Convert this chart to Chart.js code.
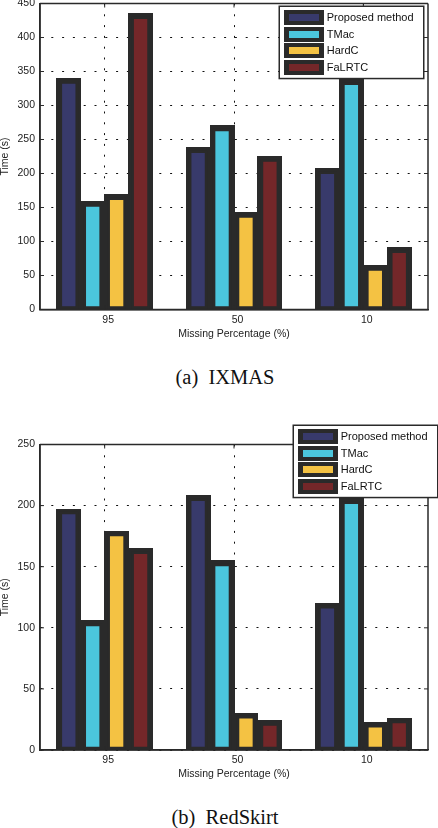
<!DOCTYPE html>
<html><head><meta charset="utf-8">
<script src="https://cdn.jsdelivr.net/npm/chart.js@4"></script>
<style>
html,body{margin:0;padding:0;background:#fff;width:438px;height:828px;overflow:hidden;position:relative}
.wrap{position:absolute;left:0;width:438px}
canvas{display:block}
.cap{position:absolute;left:0;width:450px;text-align:center;font-family:"Liberation Serif","Times New Roman",serif;font-size:20.5px;line-height:24px;color:#111;white-space:pre}
</style></head><body>
<div class="wrap" style="top:-10px;height:355px"><canvas id="c1"></canvas></div>
<div class="cap" style="top:365px">(a)  IXMAS</div>
<div class="wrap" style="top:400px;height:385px"><canvas id="c2"></canvas></div>
<div class="cap" style="top:805px">(b)  RedSkirt</div>
<script>
const categories = ['95', '50', '10'];
const seriesNames = ['Proposed method', 'TMac', 'HardC', 'FaLRTC'];
const seriesColors = ['#383a6b', '#4bc6dd', '#f4c243', '#742729'];

// (a) IXMAS, time (s)
const ixmasProposed = [336, 234, 203];
const ixmasTMac = [155, 266, 334];
const ixmasHardC = [165, 139, 61];
const ixmasFaLRTC = [431, 221, 87];

// (b) RedSkirt, time (s)
const redProposed = [195, 206, 118];
const redTMac = [103.5, 152.5, 203.5];
const redHardC = [177, 28, 20.5];
const redFaLRTC = [162.5, 22, 24];

const xTitle = 'Missing Percentage (%)';
const yTitle = 'Time (s)';

const INK = '#2a2a2a';
const TXT = '#222';
const HALF_EDGE = 2.65;
Chart.defaults.font.family = '"Liberation Sans", Arial, sans-serif';

function makeDatasets(vals) {
  return seriesNames.map((n, i) => ({
    label: n, data: vals[i],
    backgroundColor: seriesColors[i], borderColor: INK,
    borderWidth: HALF_EDGE, borderSkipped: false, inflateAmount: 0,
    categoryPercentage: 0.74, barPercentage: 0.78
  }));
}

// thick MATLAB-like edge: the outer half of the edge line, drawn under each bar
const edgeUnderlay = {
  id: 'edgeUnderlay',
  beforeDatasetsDraw(chart) {
    const {ctx, chartArea: ca} = chart;
    ctx.save();
    ctx.beginPath();
    ctx.rect(ca.left, ca.top - 10, ca.right - ca.left, ca.bottom - ca.top + 10);
    ctx.clip();
    ctx.fillStyle = INK;
    chart.data.datasets.forEach((ds, i) => {
      chart.getDatasetMeta(i).data.forEach(bar => {
        const p = bar.getProps(['x', 'y', 'base', 'width'], true);
        const l = Math.floor(p.x - p.width / 2 - HALF_EDGE);
        const r = Math.ceil(p.x + p.width / 2 + HALF_EDGE);
        const t = Math.floor(Math.min(p.y, p.base) - HALF_EDGE);
        const b = Math.ceil(Math.max(p.y, p.base) + HALF_EDGE);
        ctx.fillRect(l, t, r - l, b - t);
      });
    });
    ctx.restore();
  }
};

const framePlugin = {
  id: 'frame',
  afterDatasetsDraw(chart) {
    const {ctx, chartArea: ca, scales} = chart;
    ctx.save();
    ctx.strokeStyle = INK; ctx.lineWidth = 1.5;
    ctx.beginPath();
    ctx.moveTo(ca.left, ca.top); ctx.lineTo(ca.right, ca.top);
    ctx.moveTo(ca.right, ca.top); ctx.lineTo(ca.right, ca.bottom);
    ctx.moveTo(ca.left, ca.bottom); ctx.lineTo(ca.right, ca.bottom);
    ctx.moveTo(ca.left, ca.top); ctx.lineTo(ca.left, ca.bottom);
    ctx.stroke();
    ctx.lineWidth = 1;
    ctx.beginPath();
    scales.y.ticks.forEach(t => {
      const y = scales.y.getPixelForValue(t.value);
      ctx.moveTo(ca.left, y); ctx.lineTo(ca.left + 4, y);
      ctx.moveTo(ca.right - 4, y); ctx.lineTo(ca.right, y);
    });
    scales.x.ticks.forEach((t, i) => {
      const x = scales.x.getPixelForTick(i);
      ctx.moveTo(x, ca.bottom); ctx.lineTo(x, ca.bottom - 4);
      ctx.moveTo(x, ca.top); ctx.lineTo(x, ca.top + 4);
    });
    ctx.stroke();
    ctx.restore();
  }
};

const boxLegend = {
  id: 'boxLegend',
  afterDraw(chart, args, opts) {
    const {ctx, chartArea: ca} = chart;
    const x0 = Math.round(ca.right + opts.dx) + 0.25, y0 = Math.round(ca.top + opts.dy) + 0.25, w = 144.5, h = 72.3;
    ctx.save();
    ctx.fillStyle = '#fff'; ctx.fillRect(x0, y0, w, h);
    ctx.lineWidth = 1.5; ctx.strokeStyle = INK; ctx.strokeRect(x0, y0, w, h);
    chart.data.datasets.forEach((ds, i) => {
      const cy = Math.round(y0 + 11.6 + i * 16.7);
      const sx = Math.round(x0 + 4.6);
      ctx.fillStyle = INK; ctx.fillRect(sx, cy - 8, 40, 15);
      ctx.fillStyle = ds.backgroundColor; ctx.fillRect(sx + 5, cy - 4, 30, 7);
      ctx.fillStyle = '#111';
      ctx.font = '11px "Liberation Sans", Arial, sans-serif';
      ctx.textBaseline = 'middle'; ctx.textAlign = 'left';
      ctx.fillText(ds.label, x0 + 47.5, cy);
    });
    ctx.restore();
  }
};

function makeChart(id, vals, yMax, padTop, xHeight, legendPos) {
  return new Chart(document.getElementById(id), {
    type: 'bar',
    data: { labels: categories, datasets: makeDatasets(vals) },
    options: {
      responsive: true, maintainAspectRatio: false, animation: false,
      layout: { padding: { top: padTop, right: 10, bottom: 0, left: 0 } },
      plugins: { legend: { display: false }, tooltip: { enabled: false }, boxLegend: legendPos },
      scales: {
        x: {
          offset: true,
          grid: { offset: false, color: '#111', lineWidth: 1, drawTicks: false },
          border: { display: true, color: INK, width: 1.5, dash: [2, 8.8] },
          ticks: { padding: 4, labelOffset: 3.5, color: TXT, font: { size: 10.5 } },
          title: { display: true, text: xTitle, color: TXT, font: { size: 10.5, lineHeight: 1.05 }, padding: { top: 0, bottom: 5.5 } },
          afterFit(s) { s.height = xHeight; }
        },
        y: {
          min: 0, max: yMax,
          grid: { color: '#111', lineWidth: 1, drawTicks: false },
          border: { display: true, color: INK, width: 1.5, dash: [2, 8.8] },
          ticks: { stepSize: 50, padding: 5, color: TXT, font: { size: 10.5 } },
          title: { display: true, text: yTitle, color: TXT, font: { size: 10.5, lineHeight: 1.05 }, padding: 0 },
          afterFit(s) { s.width = 40; }
        }
      }
    },
    plugins: [edgeUnderlay, framePlugin, boxLegend]
  });
}

makeChart('c1', [ixmasProposed, ixmasTMac, ixmasHardC, ixmasFaLRTC], 450, 13.5, 35.5, { dx: -149.3, dy: 2.5 });
makeChart('c2', [redProposed, redTMac, redHardC, redFaLRTC], 250, 44.5, 35, { dx: -135.3, dy: -19.2 });
</script>
</body></html>
